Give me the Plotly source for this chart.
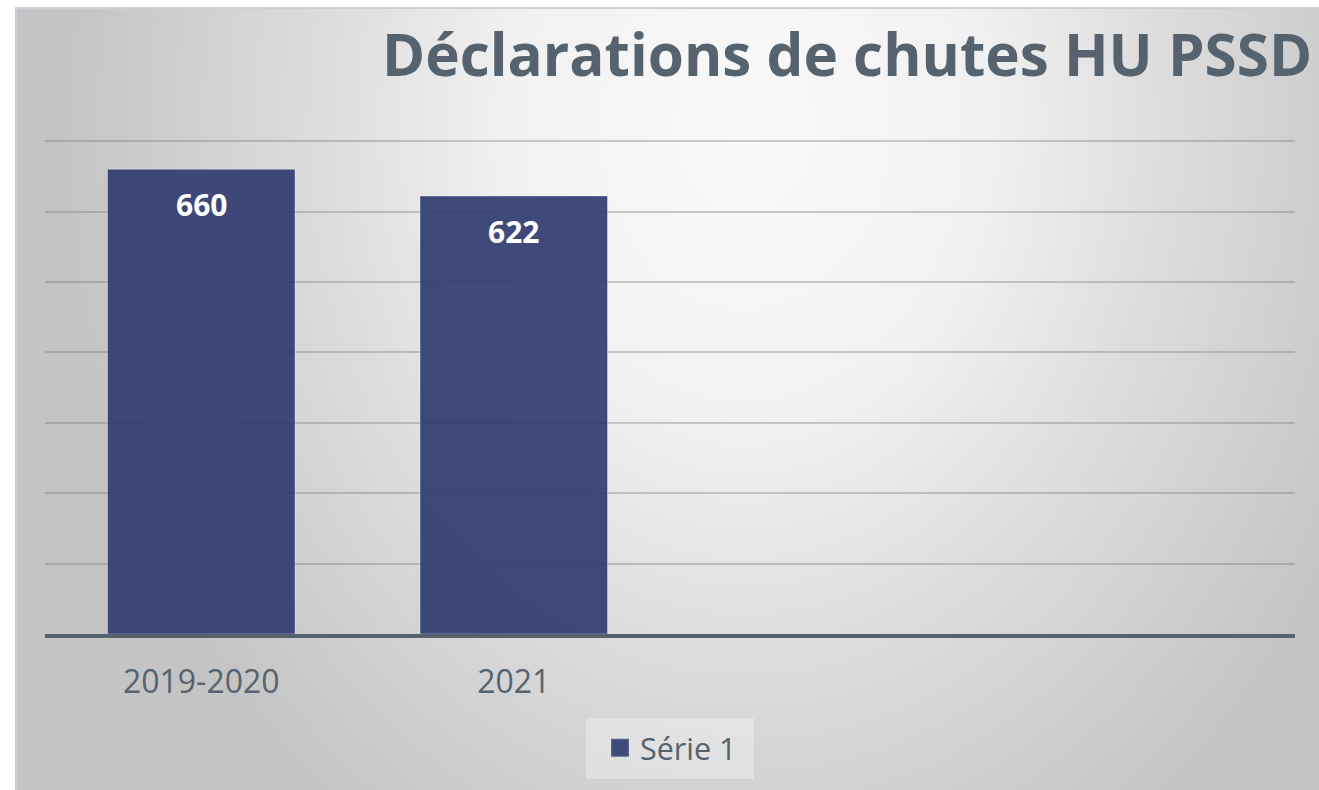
import base64
import plotly.graph_objects as go

# ---- data ----
categories = ["2019-2020", "2021"]
values = [660, 622]
series_name = "Série 1"
title_text = "Déclarations de chutes HU PSSD"
grid_values = [100, 200, 300, 400, 500, 600, 700]

# ---- styles ----
BAR = "rgba(48,60,113,0.92)"
TXT = "#56636E"
W, H = 1319, 790
ML, MR, MT, MB = 45, 24, 139, 156
PW, PH = W - ML - MR, H - MT - MB

def px_to_paper_x(px):
    return (px - ML) / PW

def py_to_paper_y(py):
    return (H - MB - py) / PH

# background gradient as inline svg
bw, bh = W - 15, H - 7
svg = f'''<svg xmlns="http://www.w3.org/2000/svg" width="{bw}" height="{bh}" viewBox="0 0 {bw} {bh}" preserveAspectRatio="none">
<defs><radialGradient id="g" gradientUnits="userSpaceOnUse" cx="0" cy="0" r="1" gradientTransform="translate(730,120) scale(680,850)">
<stop offset="0" stop-color="#F9F9F9"/><stop offset="0.35" stop-color="#F1F1F1"/><stop offset="0.6" stop-color="#DEDEDE"/><stop offset="1" stop-color="#C4C4C4"/>
</radialGradient></defs>
<rect x="0" y="0" width="{bw}" height="{bh}" fill="url(#g)"/>
<line x1="0" y1="1" x2="{bw}" y2="1" stroke="#C8D1DA" stroke-width="2"/>
<line x1="1" y1="0" x2="1" y2="{bh}" stroke="#C8D1DA" stroke-width="2"/>
</svg>'''
uri = "data:image/svg+xml;base64," + base64.b64encode(svg.encode()).decode()

fig = go.Figure()
fig.add_trace(go.Bar(
    x=categories, y=values, name=series_name, showlegend=False,
    marker=dict(color=BAR, line=dict(color="rgba(255,255,255,0.35)", width=1)),
))
# legend entry
fig.add_trace(go.Scatter(
    x=[None], y=[None], mode="markers", name=series_name,
    marker=dict(symbol="square", size=18, color=BAR, line=dict(color="rgba(70,80,130,0.9)", width=2)),
))

for i, v in enumerate(values):
    fig.add_annotation(x=i, y=v, text=f"<b>{v}</b>", showarrow=False, yshift=-35,
                       font=dict(family="Open Sans", size=30, color="white"))

fig.add_annotation(xref="paper", yref="paper", x=px_to_paper_x(1314), y=py_to_paper_y(53),
                   xanchor="right", yanchor="middle", showarrow=False,
                   text=f"<b>{title_text}</b>",
                   font=dict(family="Open Sans", size=58.4, color=TXT))

fig.add_layout_image(dict(
    source=uri, xref="paper", yref="paper",
    x=px_to_paper_x(15), y=py_to_paper_y(7),
    sizex=bw / PW, sizey=bh / PH, sizing="stretch",
    xanchor="left", yanchor="top", layer="below",
))

# legend box
fig.add_shape(type="rect", xref="paper", yref="paper",
              x0=px_to_paper_x(586), x1=px_to_paper_x(754),
              y0=py_to_paper_y(779), y1=py_to_paper_y(718),
              fillcolor="rgba(255,255,255,0.3)", line=dict(width=0), layer="below")

fig.update_layout(
    width=W, height=H,
    margin=dict(l=ML, r=MR, t=MT, b=MB, pad=0),
    paper_bgcolor="white", plot_bgcolor="rgba(0,0,0,0)",
    bargap=0.4,
    font=dict(family="Open Sans", color=TXT),
    legend=dict(orientation="h", x=px_to_paper_x(671), xanchor="center", y=py_to_paper_y(748), yanchor="middle",
                bgcolor="rgba(0,0,0,0)", font=dict(size=30.5, color=TXT),
                itemsizing="trace"),
    xaxis=dict(type="category", range=[-0.5, 3.5], showgrid=False,
               showline=True, linecolor="#56636E", linewidth=3.5,
               ticks="", ticklabelstandoff=17,
               tickfont=dict(family="Open Sans", size=32, color=TXT), fixedrange=True),
    yaxis=dict(range=[0, 703], tickvals=grid_values, showticklabels=False, zeroline=False,
               showgrid=True, gridcolor="rgba(120,120,120,0.36)", gridwidth=1.5, fixedrange=True),
    showlegend=True,
)

fig.write_html("out.html")
